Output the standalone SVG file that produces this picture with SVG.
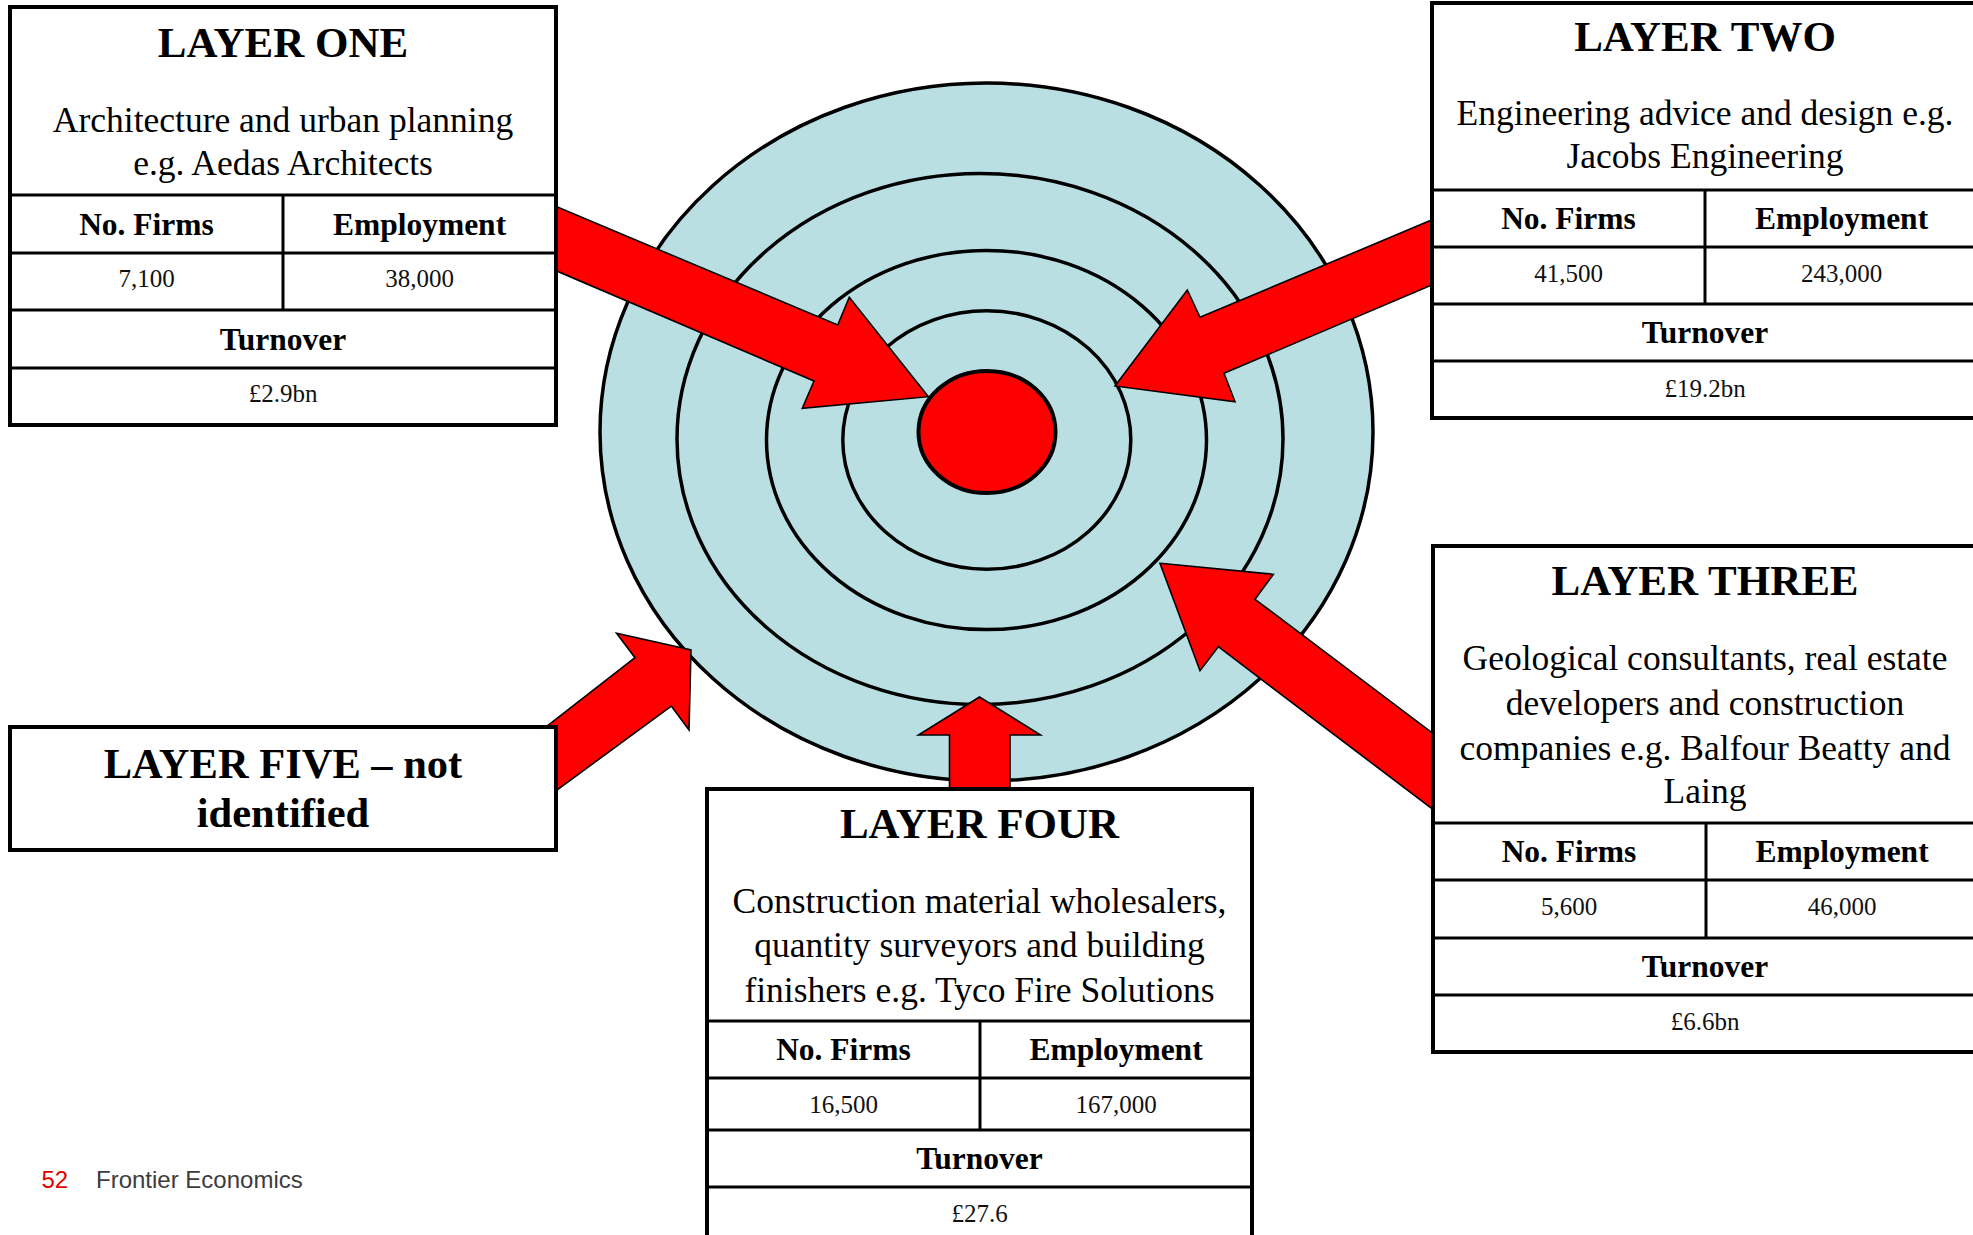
<svg xmlns="http://www.w3.org/2000/svg" width="1973" height="1235" viewBox="0 0 1973 1235">
<style>
.bg{fill:#ffffff}
.ring{fill:none;stroke:#000;stroke-width:3.5}
.arrow{fill:#ff0000;stroke:#000;stroke-width:1.6;stroke-linejoin:miter}
.box{fill:#ffffff;stroke:#000;stroke-width:4}
.ln{stroke:#000;stroke-width:3}
text{font-family:"Liberation Serif","Times New Roman",serif;fill:#000;text-anchor:middle}
.t{font-size:43px;font-weight:bold}
.d{font-size:35.5px}
.h{font-size:31.5px;font-weight:bold}
.v{font-size:25px;fill:#111}
.f5{font-size:42.5px;font-weight:bold}
.ft{font-family:"Liberation Sans",Arial,sans-serif;font-size:24px;text-anchor:start}
</style>
<rect class="bg" x="0" y="0" width="1973" height="1235"/>

<g id="target">
  <ellipse cx="986.5" cy="432" rx="386.5" ry="349" fill="#b9dfe3" stroke="#000" stroke-width="3.5"/>
  <ellipse class="ring" cx="980" cy="439" rx="303" ry="265.5"/>
  <ellipse class="ring" cx="986.5" cy="440" rx="220" ry="189.6"/>
  <ellipse class="ring" cx="986.8" cy="440" rx="144" ry="129.3"/>
  <ellipse cx="987" cy="432" rx="68.5" ry="61" fill="#ff0000" stroke="#000" stroke-width="4"/>
</g>

<g id="connectors">
  <polygon class="arrow" points="530,195.5 837.7,325 849.3,297.3 928.3,396.7 802.3,408.3 814,381 530,259.6"/>
  <polygon class="arrow" points="1460,208.1 1200,317.3 1187.3,290 1115,386 1235,401.7 1224,373.3 1460,273"/>
  <polygon class="arrow" points="1160,563.3 1273.3,574.3 1255,599.3 1460,753.9 1460,830 1218.3,646.7 1200,670.7"/>
  <polygon class="arrow" points="979.5,697 1040.5,735 1010,735 1010,800 949.5,800 949.5,735 918.5,735"/>
  <polygon class="arrow" points="500,762.8 635,657.7 616.6,633.3 691,650 689,730 671.3,706 520,817.2"/>
</g>

<g id="layer-one">
  <rect class="box" x="10" y="7" width="546" height="418"/>
  <line class="ln" x1="10" y1="195" x2="556" y2="195"/>
  <line class="ln" x1="10" y1="253" x2="556" y2="253"/>
  <line class="ln" x1="10" y1="310" x2="556" y2="310"/>
  <line class="ln" x1="10" y1="368" x2="556" y2="368"/>
  <line class="ln" x1="283" y1="195" x2="283" y2="310"/>
  <text class="t" x="283" y="57">LAYER ONE</text>
  <text class="d" x="283" y="132">Architecture and urban planning</text>
  <text class="d" x="283" y="175">e.g. Aedas Architects</text>
  <text class="h" x="146.5" y="235">No. Firms</text>
  <text class="h" x="419.5" y="235">Employment</text>
  <text class="v" x="146.5" y="287">7,100</text>
  <text class="v" x="419.5" y="287">38,000</text>
  <text class="h" x="283" y="350">Turnover</text>
  <text class="v" x="283" y="402">£2.9bn</text>
</g>

<g id="layer-two">
  <rect class="box" x="1432" y="3" width="548" height="415"/>
  <line class="ln" x1="1432" y1="190" x2="1980" y2="190"/>
  <line class="ln" x1="1432" y1="247" x2="1980" y2="247"/>
  <line class="ln" x1="1432" y1="304" x2="1980" y2="304"/>
  <line class="ln" x1="1432" y1="361" x2="1980" y2="361"/>
  <line class="ln" x1="1705" y1="190" x2="1705" y2="304"/>
  <text class="t" x="1705" y="51">LAYER TWO</text>
  <text class="d" x="1705" y="125">Engineering advice and design e.g.</text>
  <text class="d" x="1705" y="168">Jacobs Engineering</text>
  <text class="h" x="1568.5" y="229">No. Firms</text>
  <text class="h" x="1841.5" y="229">Employment</text>
  <text class="v" x="1568.5" y="282">41,500</text>
  <text class="v" x="1841.5" y="282">243,000</text>
  <text class="h" x="1705" y="343">Turnover</text>
  <text class="v" x="1705" y="397">£19.2bn</text>
</g>

<g id="layer-three">
  <rect class="box" x="1433" y="546" width="548" height="506"/>
  <line class="ln" x1="1433" y1="823" x2="1981" y2="823"/>
  <line class="ln" x1="1433" y1="880" x2="1981" y2="880"/>
  <line class="ln" x1="1433" y1="938" x2="1981" y2="938"/>
  <line class="ln" x1="1433" y1="995" x2="1981" y2="995"/>
  <line class="ln" x1="1706" y1="823" x2="1706" y2="938"/>
  <text class="t" x="1705" y="595">LAYER THREE</text>
  <text class="d" x="1705" y="670">Geological consultants, real estate</text>
  <text class="d" x="1705" y="715">developers and construction</text>
  <text class="d" x="1705" y="760">companies e.g. Balfour Beatty and</text>
  <text class="d" x="1705" y="803">Laing</text>
  <text class="h" x="1569" y="862">No. Firms</text>
  <text class="h" x="1842" y="862">Employment</text>
  <text class="v" x="1569" y="915">5,600</text>
  <text class="v" x="1842" y="915">46,000</text>
  <text class="h" x="1705" y="977">Turnover</text>
  <text class="v" x="1705" y="1030">£6.6bn</text>
</g>

<g id="layer-four">
  <rect class="box" x="707" y="789" width="545" height="470"/>
  <line class="ln" x1="707" y1="1021" x2="1252" y2="1021"/>
  <line class="ln" x1="707" y1="1078" x2="1252" y2="1078"/>
  <line class="ln" x1="707" y1="1130" x2="1252" y2="1130"/>
  <line class="ln" x1="707" y1="1187" x2="1252" y2="1187"/>
  <line class="ln" x1="980" y1="1021" x2="980" y2="1130"/>
  <text class="t" x="979.5" y="838">LAYER FOUR</text>
  <text class="d" x="979.5" y="913">Construction material wholesalers,</text>
  <text class="d" x="979.5" y="957">quantity surveyors and building</text>
  <text class="d" x="979.5" y="1002">finishers e.g. Tyco Fire Solutions</text>
  <text class="h" x="843.5" y="1060">No. Firms</text>
  <text class="h" x="1116" y="1060">Employment</text>
  <text class="v" x="843.5" y="1113">16,500</text>
  <text class="v" x="1116" y="1113">167,000</text>
  <text class="h" x="979.5" y="1169">Turnover</text>
  <text class="v" x="979.5" y="1222">£27.6</text>
</g>

<g id="layer-five">
  <rect class="box" x="10" y="727" width="546" height="123"/>
  <text class="f5" x="283" y="778">LAYER FIVE – not</text>
  <text class="f5" x="283" y="827">identified</text>
</g>

<g id="footer">
  <text class="ft" x="41.5" y="1188" style="fill:#e00000">52</text>
  <text class="ft" x="96" y="1188" style="fill:#3c3c3c">Frontier Economics</text>
</g>
</svg>
